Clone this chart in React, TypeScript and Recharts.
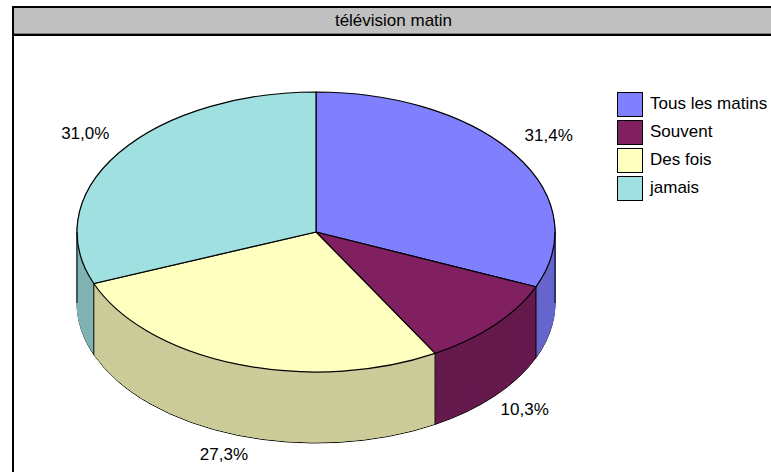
import { Cell, Legend, Pie, PieChart } from 'recharts';

const TITLE = 'télévision matin';
const CATEGORIES = ['Tous les matins', 'Souvent', 'Des fois', 'jamais'];
const SHARES = [31.4, 10.3, 27.3, 31.0];

const TOP_COLORS = ['#8080FF', '#802060', '#FFFFC0', '#A0E0E0'];
const SIDE_COLORS = ['#6666CC', '#661A4D', '#CCCC9A', '#80B3B3'];

const FONT = 'Arial, "Liberation Sans", sans-serif';
const CX = 316;
const CY = 232;
const R = 239; // horizontal radius of the top face
const TILT = 140 / 239; // vertical squash of the top face
const DEPTH = 71; // wall height, px on screen
const LAYERS = 80;

const data = CATEGORIES.map((name, i) => ({ name, value: SHARES[i] }));
// wall slices, drawn from the bottom up (offsets are in unsquashed units)
const layerOffsets = Array.from({ length: LAYERS }, (_, i) => (DEPTH / TILT) * (1 - i / LAYERS));

const rad = (a: number) => (a * Math.PI) / 180;
const fmt = (v: number) => v.toFixed(1).replace('.', ',') + '%';

function SliceLabel(props: any) {
  const { cx, cy, midAngle, startAngle, endAngle, outerRadius, value } = props;
  const ry = outerRadius * TILT;
  const m = rad(midAngle);
  const front = Math.sin(m) < 0;
  const x = cx + (outerRadius + 40) * Math.cos(m);
  const y = cy - (ry + (front ? 20 : 35)) * Math.sin(m) + (front ? DEPTH : 0);

  // vertical edges on the visible wall: slice boundaries + silhouette
  const edges: number[] = [];
  if (Math.sin(rad(endAngle)) < -1e-6) edges.push(endAngle);
  const lo = Math.min(startAngle, endAngle);
  const hi = Math.max(startAngle, endAngle);
  [0, -180].forEach((a) => {
    if (a > lo && a < hi) edges.push(a);
  });

  return (
    <g>
      {edges.map((a) => {
        const ex = cx + outerRadius * Math.cos(rad(a));
        const ey = cy - ry * Math.sin(rad(a));
        return <line key={a} x1={ex} y1={ey} x2={ex} y2={ey + DEPTH} stroke="#000" strokeWidth={1} />;
      })}
      <text
        x={x}
        y={y}
        textAnchor="middle"
        dominantBaseline="central"
        fontFamily={FONT}
        fontSize={17}
        fill="#000"
      >
        {fmt(value)}
      </text>
    </g>
  );
}

function LegendList({ payload }: any) {
  return (
    <div style={{ fontFamily: FONT, fontSize: 17, color: '#000' }}>
      {(payload ?? []).map((p: any) => (
        <div key={p.value} style={{ display: 'flex', alignItems: 'center', height: 28 }}>
          <span
            style={{
              width: 24,
              height: 23,
              border: '1px solid #000',
              background: TOP_COLORS[CATEGORIES.indexOf(p.value)],
              marginRight: 7,
              flex: 'none',
            }}
          />
          <span>{p.value}</span>
        </div>
      ))}
    </div>
  );
}

export default function App() {
  return (
    <div style={{ position: 'absolute', left: 0, top: 0, width: 771, height: 472, overflow: 'hidden', background: '#fff' }}>
      <style>{`
        g.recharts-pie.pie3d { transform: scaleY(${TILT}); transform-origin: 0px ${CY}px; }
        .pie3d path { vector-effect: non-scaling-stroke; }
      `}</style>

      <div style={{ position: 'absolute', left: 0, top: 0 }}>
        <PieChart width={771} height={472} margin={{ top: 0, right: 0, bottom: 0, left: 0 }}>
          {layerOffsets.map((d, li) => (
            <Pie
              key={`wall-${li}`}
              className="pie3d"
              data={data}
              dataKey="value"
              nameKey="name"
              cx={CX}
              cy={CY + d}
              outerRadius={R}
              startAngle={90}
              endAngle={-270}
              legendType="none"
              isAnimationActive={false}
            >
              {SIDE_COLORS.map((c) => (
                <Cell key={c} fill={c} stroke={li === 0 ? '#000' : c} strokeWidth={1} />
              ))}
            </Pie>
          ))}
          <Pie
            key="top"
            className="pie3d"
            data={data}
            dataKey="value"
            nameKey="name"
            cx={CX}
            cy={CY}
            outerRadius={R}
            startAngle={90}
            endAngle={-270}
            isAnimationActive={false}
          >
            {TOP_COLORS.map((c) => (
              <Cell key={c} fill={c} stroke="#000" strokeWidth={1.2} />
            ))}
          </Pie>
          <Pie
            key="labels"
            data={data}
            dataKey="value"
            nameKey="name"
            cx={CX}
            cy={CY}
            outerRadius={R}
            startAngle={90}
            endAngle={-270}
            fill="none"
            stroke="none"
            legendType="none"
            label={SliceLabel}
            labelLine={false}
            isAnimationActive={false}
          />
          <Legend
            layout="vertical"
            align="right"
            verticalAlign="top"
            payloadUniqBy={(p: any) => p.value}
            itemSorter={(p: any) => CATEGORIES.indexOf(p.value)}
            content={<LegendList />}
            wrapperStyle={{ left: 617, top: 90, right: 'auto', width: 160 }}
          />
        </PieChart>
      </div>

      {/* chart frame and title bar */}
      <div style={{ position: 'absolute', left: 12, top: 6, width: 900, height: 600, borderTop: '2px solid #000', borderLeft: '2px solid #000' }} />
      <div
        style={{
          position: 'absolute',
          left: 14,
          top: 8,
          width: 759,
          height: 25,
          lineHeight: '25px',
          background: '#C0C0C0',
          borderBottom: '1px solid #808080',
          boxShadow: '0 2px 0 #000',
          textAlign: 'center',
          fontFamily: FONT,
          fontSize: 17,
          color: '#000',
        }}
      >
        {TITLE}
      </div>
    </div>
  );
}
